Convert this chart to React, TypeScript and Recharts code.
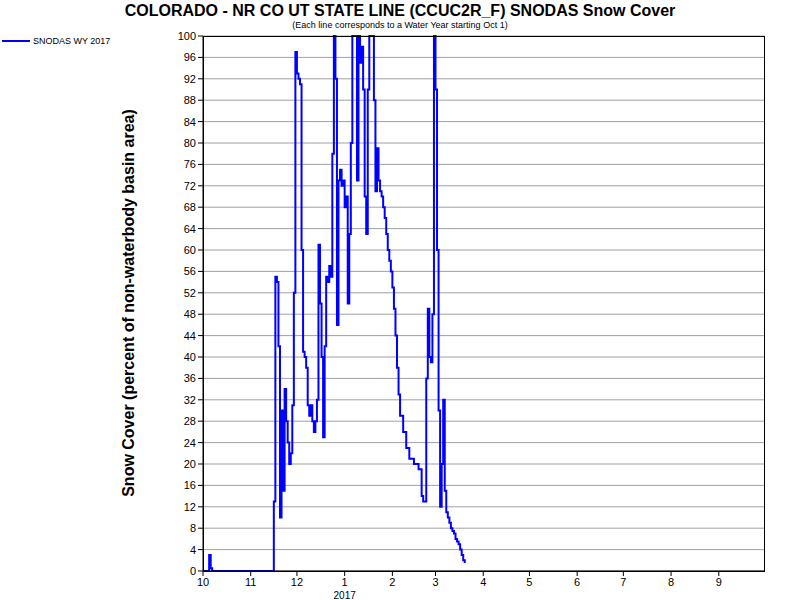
import { CartesianGrid, Line, LineChart, XAxis, YAxis } from "recharts";

// days since Oct 1 2016, percent snow cover
const days = [0, 3, 4, 5, 6, 45, 46, 47, 48, 49, 50, 51, 52, 53, 54, 55, 56, 57, 58, 59, 60, 61, 62, 63, 64, 65, 66, 67, 68, 69, 70, 71, 72, 73, 74, 75, 76, 77, 78, 79, 80, 81, 82, 83, 84, 85, 86, 87, 88, 89, 90, 91, 92, 93, 94, 95, 96, 97, 98, 99, 100, 101, 102, 103, 104, 105, 106, 107, 108, 109, 110, 111, 112, 113, 114, 115, 116, 117, 118, 119, 120, 121, 122, 123, 124, 125, 126, 127, 128, 130, 132, 134, 137, 140, 142, 143, 145, 146, 147, 148, 149, 150, 151, 152, 153, 154, 155, 156, 157, 158, 159, 160, 161, 162, 163, 164, 165, 166, 167, 168, 169, 170];
const cover = [0, 0, 3, 0.5, 0, 0, 13, 55, 54, 42, 10, 30, 15, 34, 28, 24, 20, 22, 31, 52, 97, 93, 92, 91, 60, 41, 40, 38, 31, 29, 31, 28, 26, 28, 32, 61, 50, 40, 25, 42, 55, 54, 57, 55, 78, 100, 92, 46, 73, 75, 72, 73, 68, 70, 50, 63, 80, 100, 100, 100, 73, 100, 95, 98, 90, 70, 63, 90, 100, 100, 100, 88, 71, 79, 73, 71, 70, 68, 66, 63, 60, 58, 56, 53, 49, 44, 38, 33, 29, 26, 23, 21, 20, 19, 14, 13, 36, 49, 40, 39, 48, 100, 90, 60, 30, 12, 20, 32, 15, 11, 10, 9, 8, 7.5, 7, 6, 5.5, 5, 4, 3, 2, 1.5];

const monthTicks = [0, 31, 61, 92, 123, 151, 182, 212, 243, 273, 304, 335];
const monthLabels = ["10", "11", "12", "1", "2", "3", "4", "5", "6", "7", "8", "9"];
const yTicks = Array.from({ length: 26 }, (_, i) => i * 4);

const data = days.map((d, i) => ({ day: d, v: cover[i] }));

const XTick = ({ x, y, payload }: any) => {
  const i = monthTicks.indexOf(payload.value);
  return (
    <g>
      <text x={x} y={y + 8} textAnchor="middle" fontSize={11} fill="#000">{monthLabels[i]}</text>
      {i === 3 && <text x={x} y={y + 21} textAnchor="middle" fontSize={10} fill="#000">2017</text>}
    </g>
  );
};

export default function App() {
  return (
    <div style={{ position: "fixed", top: 0, left: 0, width: 800, height: 600, background: "#fff", fontFamily: "Arial, 'Liberation Sans', sans-serif" }}>
      <div style={{ position: "absolute", top: 2, left: 0, width: 800, textAlign: "center", fontWeight: "bold", fontSize: 16 }}>
        COLORADO - NR CO UT STATE LINE (CCUC2R_F) SNODAS Snow Cover
      </div>
      <div style={{ position: "absolute", top: 20, left: 0, width: 800, textAlign: "center", fontSize: 9 }}>
        (Each line corresponds to a Water Year starting Oct 1)
      </div>
      <div style={{ position: "absolute", top: 36, left: 2, fontSize: 9, display: "flex", alignItems: "center" }}>
        <span style={{ display: "inline-block", width: 28, height: 2, background: "#0000ff", marginRight: 3 }} />
        SNODAS WY 2017
      </div>
      <div style={{ position: "absolute", left: 129, top: 303, transform: "translate(-50%,-50%) rotate(-90deg)", whiteSpace: "nowrap", fontWeight: "bold", fontSize: 16 }}>
        Snow Cover (percent of non-waterbody basin area)
      </div>
      <LineChart width={800} height={600} data={data} margin={{ top: 36, right: 35, bottom: 0, left: 0 }} style={{ position: "absolute", top: 0, left: 0 }}>
        <CartesianGrid horizontal vertical={false} stroke="#a0a0a0" />
        <XAxis dataKey="day" type="number" domain={[0, 365]} ticks={monthTicks} tick={<XTick />} stroke="#000" tickSize={5} interval={0} height={29} />
        <YAxis type="number" domain={[0, 100]} ticks={yTicks} width={203} stroke="#000" tick={{ fontSize: 11, fill: "#000" }} interval={0} tickSize={5} />
        <Line dataKey="v" stroke="#0000ff" strokeWidth={2} dot={false} type="stepAfter" isAnimationActive={false} />
      </LineChart>
      <div style={{ position: "absolute", left: 203, top: 36, width: 562, height: 536, border: "1px solid #000", boxSizing: "border-box", pointerEvents: "none" }} />
    </div>
  );
}
